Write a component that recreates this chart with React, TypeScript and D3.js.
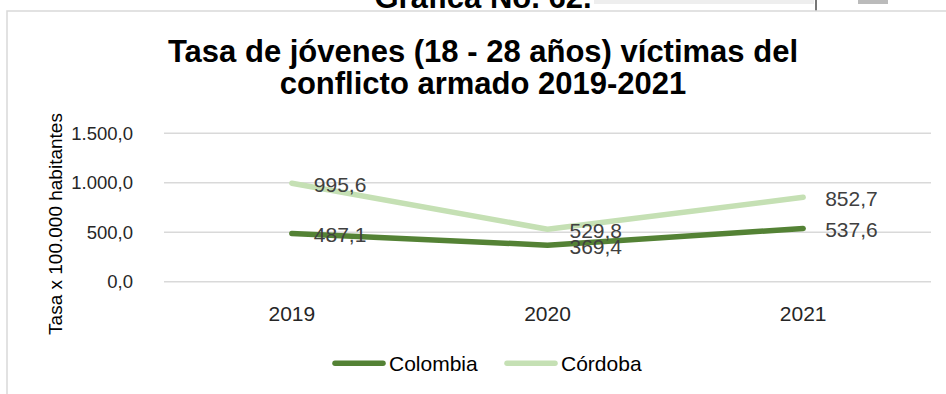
import React from "react";
import * as d3 from "d3";

const years = ["2019", "2020", "2021"];
const colombia = [487.1, 369.4, 537.6];
const cordoba = [995.6, 529.8, 852.7];
const yTicks = [0, 500, 1000, 1500];
const seriesNames = ["Colombia", "Córdoba"];
const titleLines = ["Tasa de jóvenes (18 - 28 años) víctimas del", "conflicto armado 2019-2021"];
const yTitle = "Tasa x 100.000 habitantes";
const topCaption = "Gráfica No. 62.";

const W = 946;
const H = 394;
const colors = ["#548235", "#C5E0B4"];
const fmt = (v: number) => {
  const s = v.toFixed(1).replace(".", ",");
  const [i, d] = s.split(",");
  return i.replace(/\B(?=(\d{3})+(?!\d))/g, ".") + "," + d;
};

export default function App() {
  const x = d3.scaleBand<string>().domain(years).range([164, 931]);
  const cx = (k: string) => (x(k) as number) + x.bandwidth() / 2;
  const y = d3.scaleLinear().domain([0, 1500]).range([281.7, 133.3]);
  const line = d3
    .line<number>()
    .x((_, i) => cx(years[i]))
    .y((v) => y(v));
  const series = [colombia, cordoba];
  const font = "'Liberation Sans', Arial, sans-serif";

  return (
    <svg
      width={W}
      height={H}
      viewBox={`0 0 ${W} ${H}`}
      style={{ position: "absolute", left: 0, top: 0, background: "#fff" }}
      fontFamily={font}
    >
      <rect x={0} y={0} width={W} height={H} fill="#fff" />
      {/* top caption partly cut */}
      <text x={483} y={8} textAnchor="middle" fontSize={31} fontWeight="bold" fill="#000">
        {topCaption}
      </text>
      <rect x={594} y={0} width={220} height={4} fill="#eeeeee" />
      <rect x={815} y={0} width={2} height={12} fill="#777" />
      <rect x={858} y={0} width={30} height={4} fill="#bbb" />
      {/* chart frame */}
      <rect x={7} y={11} width={1000} height={500} fill="#fff" stroke="#d9d9d9" strokeWidth={1.5} />
      {/* title */}
      {titleLines.map((t, i) => (
        <text
          key={t}
          x={483}
          y={61.5 + i * 32.5}
          textAnchor="middle"
          fontSize={31}
          fontWeight="bold"
          fill="#000"
        >
          {t}
        </text>
      ))}
      {/* gridlines */}
      {yTicks.map((t) => (
        <g key={t}>
          <line x1={164} x2={931} y1={y(t)} y2={y(t)} stroke="#d9d9d9" strokeWidth={1.5} />
          <text x={133} y={y(t) + 6.5} textAnchor="end" fontSize={18.5} fill="#262626">
            {fmt(t)}
          </text>
        </g>
      ))}
      {/* y title */}
      <text
        transform={`translate(61.5,224) rotate(-90)`}
        textAnchor="middle"
        fontSize={19}
        fill="#000"
      >
        {yTitle}
      </text>
      {/* x labels */}
      {years.map((k) => (
        <text key={k} x={cx(k)} y={321} textAnchor="middle" fontSize={21} fill="#262626">
          {k}
        </text>
      ))}
      {/* lines */}
      {series.map((s, si) => (
        <path
          key={si}
          d={line(s) as string}
          fill="none"
          stroke={colors[si]}
          strokeWidth={5.5}
          strokeLinecap="round"
          strokeLinejoin="round"
        />
      ))}
      {/* data labels */}
      {series.map((s, si) =>
        s.map((v, i) => (
          <text
            key={`${si}-${i}`}
            x={cx(years[i]) + 22}
            y={y(v) + 8.5}
            fontSize={21}
            fill="#404040"
          >
            {fmt(v)}
          </text>
        ))
      )}
      {/* legend */}
      {seriesNames.map((n, i) => {
        const lx = [332, 504][i];
        return (
          <g key={n}>
            <line
              x1={lx + 3}
              x2={lx + 51}
              y1={363.3}
              y2={363.3}
              stroke={colors[i]}
              strokeWidth={5.5}
              strokeLinecap="round"
            />
            <text x={lx + 57} y={371} fontSize={21} fill="#000">
              {n}
            </text>
          </g>
        );
      })}
    </svg>
  );
}
